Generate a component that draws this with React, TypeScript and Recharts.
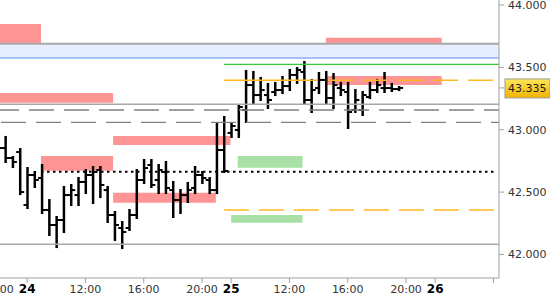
import { ComposedChart, Bar, XAxis, YAxis, ReferenceArea, ReferenceLine } from 'recharts';

// 30-minute bars, index 0 = day 23 20:00, session 08:00-22:00
const barOpen = [
  42.9, 42.853, 42.773, 42.821, 42.396, 42.637, 42.613, 42.356, 42.236, 42.276,
  42.476, 42.476, 42.581, 42.637, 42.677, 42.516, 42.316, 42.212, 42.212, 42.316,
  42.597, 42.717, 42.597, 42.661, 42.516, 42.436, 42.476, 42.533, 42.637, 42.597,
  42.516, 42.837, 42.974, 42.998, 43.158, 43.358, 43.278, 43.278, 43.302, 43.318,
  43.35, 43.439, 43.463, 43.238, 43.334, 43.399, 43.254, 43.334, 43.302, 43.158,
  43.158, 43.262, 43.318, 43.334, 43.334, 43.326,
];
const barHigh = [
  42.96, 42.942, 42.781, 42.845, 42.693, 42.661, 42.717, 42.436, 42.3, 42.541,
  42.557, 42.613, 42.677, 42.701, 42.701, 42.541, 42.34, 42.26, 42.356, 42.677,
  42.757, 42.757, 42.717, 42.741, 42.581, 42.516, 42.573, 42.701, 42.661, 42.613,
  43.054, 43.102, 43.054, 43.198, 43.471, 43.463, 43.415, 43.367, 43.375, 43.423,
  43.479, 43.495, 43.543, 43.399, 43.455, 43.463, 43.447, 43.375, 43.375, 43.318,
  43.302, 43.375, 43.399, 43.455, 43.367, 43.342,
];
const barLow = [
  42.83, 42.741, 42.701, 42.484, 42.372, 42.541, 42.332, 42.156, 42.059, 42.18,
  42.396, 42.396, 42.492, 42.412, 42.46, 42.26, 42.116, 42.051, 42.196, 42.292,
  42.573, 42.541, 42.492, 42.492, 42.3, 42.332, 42.42, 42.492, 42.573, 42.492,
  42.492, 42.661, 42.942, 42.942, 43.062, 43.214, 43.238, 43.174, 43.278, 43.294,
  43.318, 43.375, 43.214, 43.142, 43.294, 43.214, 43.174, 43.278, 43.014, 43.142,
  43.118, 43.254, 43.302, 43.302, 43.31, 43.318,
];
const barClose = [
  42.853, 42.773, 42.741, 42.5, 42.637, 42.597, 42.356, 42.236, 42.276, 42.476,
  42.516, 42.581, 42.637, 42.661, 42.557, 42.316, 42.236, 42.18, 42.316, 42.597,
  42.693, 42.557, 42.677, 42.533, 42.436, 42.476, 42.516, 42.637, 42.613, 42.516,
  42.837, 42.669, 43.03, 43.182, 43.358, 43.278, 43.318, 43.238, 43.318, 43.35,
  43.439, 43.479, 43.238, 43.318, 43.399, 43.254, 43.358, 43.318, 43.142, 43.238,
  43.278, 43.318, 43.358, 43.334, 43.326, 43.335,
];

const lastPrice = 43.335;

const xTickIdx = [0, 4, 12, 20, 28, 32, 40, 48, 56, 60, 68];
const xTickText = ['20:00', '24', '12:00', '16:00', '20:00', '25', '12:00', '16:00', '20:00', '26', ''];
const yTicks = [42, 42.5, 43, 43.5, 44, lastPrice];

// [x1, x2, yLow, yHigh]
const redZones = [
  [0, 5.9, 43.695, 43.848],
  [45.0, 60.9, 43.693, 43.738],
  [0, 15.8, 43.216, 43.294],
  [45.0, 60.9, 43.358, 43.431],
  [15.8, 31.9, 42.877, 42.949],
  [5.9, 15.8, 42.671, 42.789],
  [15.8, 29.9, 42.415, 42.495],
];
const greenZones = [
  [32.9, 41.8, 42.695, 42.789],
  [32.0, 41.8, 42.254, 42.316],
];

const bandLow = 43.575;
const bandHigh = 43.687;
const grayLevels = [43.69, 43.204, 42.081];
const dashedGray = [43.158, 43.059];
const greenLevel = 43.524;
const orangeHigh = 43.396;
const orangeLow = 42.356;
const dottedLevel = 42.663;

const xMin = 0;
const xMax = 68.76;

const rows = barHigh.map((h, i) => ({
  i,
  open: barOpen[i],
  high: h,
  low: barLow[i],
  close: barClose[i],
  range: [barLow[i], h],
}));

const FONT = '"DejaVu Sans", Verdana, sans-serif';

function OhlcShape(props: any) {
  const { x, y, width, height, payload } = props;
  if (!payload || height == null) return null;
  const top = Math.min(y, y + height);
  const h = Math.abs(height);
  const span = payload.high - payload.low || 1;
  const toY = (v: number) => top + ((payload.high - v) / span) * h;
  const cx = x + width / 2;
  const oy = toY(payload.open);
  const cy = toY(payload.close);
  return (
    <g>
      <line x1={cx} x2={cx} y1={top - 1} y2={top + h + 1} stroke="#000" strokeWidth={2.5} />
      <line x1={cx - 4} x2={cx} y1={oy} y2={oy} stroke="#000" strokeWidth={2} />
      <line x1={cx} x2={cx + 4} y1={cy} y2={cy} stroke="#000" strokeWidth={2} />
    </g>
  );
}

function XTick(props: any) {
  const { x, y, payload } = props;
  const k = xTickIdx.indexOf(payload.value);
  const text = k >= 0 ? xTickText[k] : '';
  const isDay = text.length === 2;
  return (
    <text
      x={x}
      y={y + 8}
      textAnchor="middle"
      fontFamily={FONT}
      fontSize={isDay ? 12 : 11}
      fontWeight={isDay ? 'bold' : 'normal'}
      fill={isDay ? '#000' : '#333'}
    >
      {text}
    </text>
  );
}

function YTick(props: any) {
  const { x, y, payload } = props;
  const v = payload.value;
  if (v === lastPrice) {
    return (
      <g>
        <rect x={x - 3} y={y - 9} width={45} height={19} fill="url(#priceBox)" stroke="#9a9a9a" />
        <text x={x} y={y + 4} fontFamily={FONT} fontSize={11} fill="#222">
          {v.toFixed(3)}
        </text>
      </g>
    );
  }
  return (
    <text x={x} y={y + 4} fontFamily={FONT} fontSize={11} fill="#333">
      {v.toFixed(3)}
    </text>
  );
}

export default function App() {
  return (
    <div style={{ position: 'absolute', left: 0, top: 0, width: 550, height: 300, background: '#fff' }}>
      <ComposedChart width={550} height={300} data={rows} margin={{ top: 0, right: 0, bottom: 0, left: -2 }}>
        <defs>
          <linearGradient id="priceBox" x1="0" y1="0" x2="0" y2="1">
            <stop offset="0%" stopColor="#ffe65a" />
            <stop offset="100%" stopColor="#f0b400" />
          </linearGradient>
        </defs>
        <XAxis
          type="number"
          dataKey="i"
          domain={[xMin, xMax]}
          allowDataOverflow
          ticks={xTickIdx}
          interval={0}
          height={22}
          tickSize={5}
          stroke="#a0a0a0"
          tick={<XTick />}
        />
        <YAxis
          orientation="right"
          domain={[41.811, 44.04]}
          allowDataOverflow
          ticks={yTicks}
          interval={0}
          width={51}
          tickSize={5}
          tickMargin={4}
          stroke="#a0a0a0"
          tick={<YTick />}
        />
        <ReferenceArea y1={bandLow} y2={bandHigh} fill="#e6edfd" fillOpacity={1} stroke="none" ifOverflow="hidden" />
        {redZones.map((z, k) => (
          <ReferenceArea
            key={'r' + k}
            x1={Math.max(z[0], xMin)}
            x2={z[1]}
            y1={z[2]}
            y2={z[3]}
            fill="#ff9494"
            fillOpacity={1}
            stroke="none"
            ifOverflow="hidden"
          />
        ))}
        {greenZones.map((z, k) => (
          <ReferenceArea
            key={'g' + k}
            x1={z[0]}
            x2={z[1]}
            y1={z[2]}
            y2={z[3]}
            fill="#a9e0a6"
            fillOpacity={1}
            stroke="none"
            ifOverflow="hidden"
          />
        ))}
        {grayLevels.map((v, k) => (
          <ReferenceLine key={'gl' + k} y={v} stroke="#a8a8a8" strokeWidth={k === 0 ? 2 : 1.5} />
        ))}
        <ReferenceLine y={bandLow} stroke="#5a8ef0" strokeWidth={1.2} />
        <ReferenceLine y={dashedGray[0]} stroke="#808080" strokeWidth={1.4} strokeDasharray="25 10" strokeDashoffset={10} />
        <ReferenceLine y={dashedGray[1]} stroke="#808080" strokeWidth={1.4} strokeDasharray="25 10" strokeDashoffset={17} />
        <ReferenceLine
          segment={[{ x: 31, y: greenLevel }, { x: xMax, y: greenLevel }]}
          stroke="#3cc43c"
          strokeWidth={1.4}
        />
        <ReferenceLine
          segment={[{ x: 31, y: orangeHigh }, { x: 43.9, y: orangeHigh }]}
          stroke="#ffb820"
          strokeWidth={1.4}
        />
        <ReferenceLine
          segment={[{ x: 45.3, y: orangeHigh }, { x: 68.1, y: orangeHigh }]}
          stroke="#ffb820"
          strokeWidth={1.4}
          strokeDasharray="25 10"
        />
        <ReferenceLine
          segment={[{ x: 31, y: orangeLow }, { x: 68.1, y: orangeLow }]}
          stroke="#ffb820"
          strokeWidth={1.4}
          strokeDasharray="25 10"
        />
        <ReferenceLine
          segment={[{ x: 5.9, y: dottedLevel }, { x: 68.1, y: dottedLevel }]}
          stroke="#000"
          strokeWidth={2}
          strokeDasharray="2.5 3.5"
        />
        <Bar dataKey="range" barSize={6} shape={<OhlcShape />} isAnimationActive={false} />
      </ComposedChart>
    </div>
  );
}
